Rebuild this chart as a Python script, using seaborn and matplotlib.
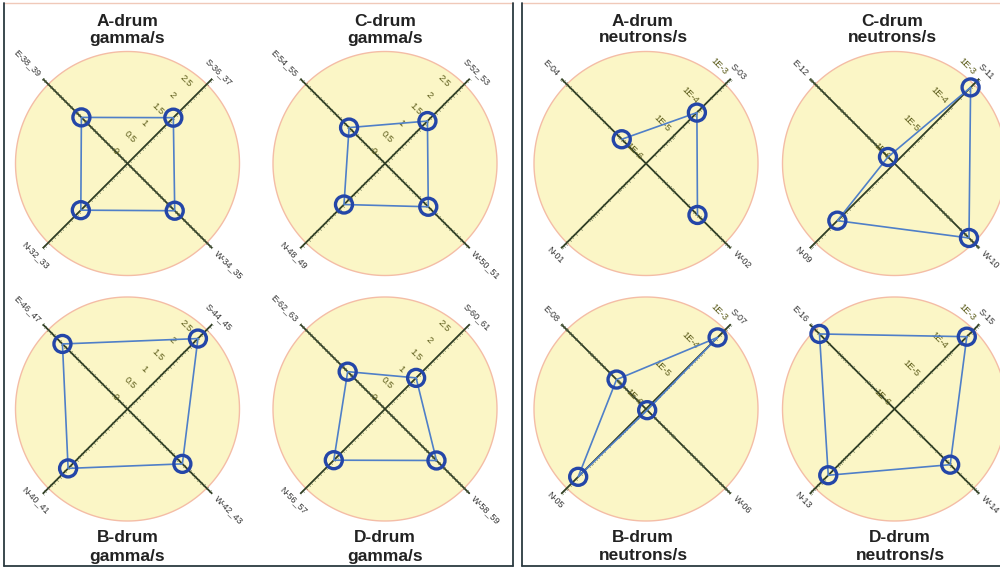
import numpy as np
import pandas as pd
import matplotlib
matplotlib.use("Agg")
import matplotlib.pyplot as plt
import matplotlib.transforms as mtransforms
from matplotlib.lines import Line2D
from matplotlib.ticker import NullLocator
import seaborn as sns

# ---- data -------------------------------------------------------------
directions = ["S", "E", "N", "W"]
direction_deg = [45, 135, 225, 315]

# gamma count rates per drum detector pair
gamma_a = [1.62, 1.63, 1.65, 1.67]
gamma_b = [2.49, 2.30, 2.10, 1.94]
gamma_c = [1.50, 1.27, 1.45, 1.53]
gamma_d = [1.10, 1.32, 1.81, 1.82]
gamma_a_names = ["S-36_37", "E-38_39", "N-32_33", "W-34_35"]
gamma_b_names = ["S-44_45", "E-46_47", "N-40_41", "W-42_43"]
gamma_c_names = ["S-52_53", "E-54_55", "N-48_49", "W-50_51"]
gamma_d_names = ["S-60_61", "E-62_63", "N-56_57", "W-58_59"]

# neutron count rates (NaN = no reading)
neutron_a = [6.3e-5, 7.2e-6, np.nan, 6.6e-5]
neutron_b = [3.4e-4, 1.1e-5, 2.5e-4, 1.1e-6]
neutron_c = [4.9e-4, 1.7e-6, 1.05e-4, 4.3e-4]
neutron_d = [3.6e-4, 4.5e-4, 2.2e-4, 9.3e-5]
neutron_a_names = ["S-03", "E-04", "N-01", "W-02"]
neutron_b_names = ["S-07", "E-08", "N-05", "W-06"]
neutron_c_names = ["S-11", "E-12", "N-09", "W-10"]
neutron_d_names = ["S-15", "E-16", "N-13", "W-14"]

gamma_ticks = [0, 0.5, 1, 1.5, 2, 2.5]
gamma_tick_labels = ["0", "0.5", "1", "1.5", "2", "2.5"]
neutron_ticks = [1e-6, 1e-5, 1e-4, 1e-3]
neutron_tick_labels = ["1E-6", "1E-5", "1E-4", "1E-3"]

# ---- style ------------------------------------------------------------
sns.set_theme(style="white")
plt.rcParams["font.family"] = ["Liberation Sans", "DejaVu Sans"]

W_PX, H_PX = 1000, 569
DPI = 100
AXIS_COLOR = "#2f3d25"
TICK_COLOR = "#55633f"
TICK_TEXT = "#5a5a18"
DISC_FACE = "#fbf6c6"
DISC_EDGE = "#f4bda6"
LINE_BLUE = "#4f7fc8"
RING_BLUE = "#2446a8"
TITLE_COLOR = "#222222"
HALF_PX = 120  # radius of the axis lines in pixels

fig = plt.figure(figsize=(W_PX / DPI, H_PX / DPI), dpi=DPI)
fig.patch.set_facecolor("white")


def px_offset(dx, dy):
    return mtransforms.ScaledTranslation(dx / DPI, dy / DPI, fig.dpi_scale_trans)


def radar_panel(cx, cy, values, names, ticks, tick_labels, log, title, title_x, title_ys):
    ax = fig.add_axes([(cx - HALF_PX) / W_PX, 1 - (cy + HALF_PX) / H_PX,
                       2 * HALF_PX / W_PX, 2 * HALF_PX / H_PX], projection="polar")
    ax.set_facecolor("none")
    ax.spines["polar"].set_visible(False)
    if log:
        ax.set_rscale("log")
        lo, hi = 1e-6, 1e-3
        disc_r = 10 ** -3.2
        minor = np.array([k * 10.0 ** e for e in (-6, -5, -4) for k in range(2, 11)])
    else:
        lo, hi = 0.0, 3.0
        disc_r = 2.8
        minor = np.arange(0.1, 3.0001, 0.1)
    ax.set_rlim(lo, hi)

    # background disc
    circ_t = np.linspace(0, 2 * np.pi, 361)
    ax.fill(circ_t, np.full_like(circ_t, disc_r), facecolor=DISC_FACE,
            edgecolor=DISC_EDGE, lw=1.0, zorder=0)

    theta = np.deg2rad(direction_deg)

    # the four axes with their tick marks
    for t, deg in zip(theta, direction_deg):
        ax.plot([t, t], [lo, hi], color=AXIS_COLOR, lw=1.3, zorder=1,
                solid_capstyle="butt")
        ax.plot(np.full_like(minor, t), minor, ls="none", marker=(2, 0, deg),
                ms=2.4, mew=0.5, color=TICK_COLOR, alpha=0.8, zorder=1)

    # scale labels along the S axis
    for tv, tl in zip(ticks, tick_labels):
        ax.text(theta[0], tv, tl, transform=ax.transData + px_offset(-12, 12),
                rotation=-45, rotation_mode="anchor", ha="center", va="center",
                fontsize=6.8, color=TICK_TEXT, zorder=2)

    # detector names beyond the axis ends
    align = {"S": ("center", "bottom"), "N": ("center", "top"),
             "E": ("right", "center"), "W": ("left", "center")}
    for d, t, name in zip(directions, theta, names):
        ha, va = align[d]
        gap = 5
        ax.text(t, hi, name,
                transform=ax.transData + px_offset(gap * np.cos(t), gap * np.sin(t)),
                rotation=-45, rotation_mode="anchor", ha=ha, va=va,
                fontsize=6.5, color="#333333", clip_on=False)

    # polygon edges, broken where a reading is missing
    vals = np.asarray(values, dtype=float)
    closed_t = np.append(theta, theta[0])
    closed_v = np.append(vals, vals[0])
    seg = np.cumsum(np.isnan(closed_v))
    df = pd.DataFrame({"theta": closed_t, "r": closed_v, "seg": seg}).dropna()
    sns.lineplot(data=df, x="theta", y="r", units="seg", estimator=None, sort=False,
                 color=LINE_BLUE, lw=1.2, ax=ax, legend=False, zorder=3)

    pts = pd.DataFrame({"theta": theta, "r": vals}).dropna()
    sns.scatterplot(data=pts, x="theta", y="r", ax=ax, s=150, marker="o",
                    facecolor="none", edgecolor=RING_BLUE, linewidth=2.4,
                    legend=False, zorder=4)

    ax.set_rlim(lo, hi)
    ax.set_xlabel("")
    ax.set_ylabel("")
    ax.grid(False)
    ax.xaxis.set_major_locator(NullLocator())
    ax.yaxis.set_major_locator(NullLocator())
    ax.yaxis.set_minor_locator(NullLocator())

    for line, y in zip(title.split("\n"), title_ys):
        fig.text(title_x / W_PX, 1 - y / H_PX, line, ha="center", va="center",
                 fontsize=12.5, fontweight="bold", color=TITLE_COLOR)
    return ax


TOP_Y, BOT_Y = 163.5, 409
TOP_TITLE = (21, 38)
BOT_TITLE = (538, 556)

radar_panel(127.5, TOP_Y, gamma_a, gamma_a_names, gamma_ticks, gamma_tick_labels,
            False, "A-drum\ngamma/s", 127.5, TOP_TITLE)
radar_panel(385, TOP_Y, gamma_c, gamma_c_names, gamma_ticks, gamma_tick_labels,
            False, "C-drum\ngamma/s", 385, TOP_TITLE)
radar_panel(127.5, BOT_Y, gamma_b, gamma_b_names, gamma_ticks, gamma_tick_labels,
            False, "B-drum\ngamma/s", 127.5, BOT_TITLE)
radar_panel(385, BOT_Y, gamma_d, gamma_d_names, gamma_ticks, gamma_tick_labels,
            False, "D-drum\ngamma/s", 385, BOT_TITLE)

radar_panel(646, TOP_Y, neutron_a, neutron_a_names, neutron_ticks, neutron_tick_labels,
            True, "A-drum\nneutrons/s", 643, TOP_TITLE)
radar_panel(894.5, TOP_Y, neutron_c, neutron_c_names, neutron_ticks, neutron_tick_labels,
            True, "C-drum\nneutrons/s", 892, TOP_TITLE)
radar_panel(646, BOT_Y, neutron_b, neutron_b_names, neutron_ticks, neutron_tick_labels,
            True, "B-drum\nneutrons/s", 643, BOT_TITLE)
radar_panel(894.5, BOT_Y, neutron_d, neutron_d_names, neutron_ticks, neutron_tick_labels,
            True, "D-drum\nneutrons/s", 900, BOT_TITLE)


# ---- frames around the gamma and neutron groups ------------------------
def fig_line(x0, y0, x1, y1, color, lw):
    fig.add_artist(Line2D([x0 / W_PX, x1 / W_PX], [1 - y0 / H_PX, 1 - y1 / H_PX],
                          transform=fig.transFigure, color=color, lw=lw))


FRAME = "#2b3a40"
FRAME_TOP = "#f0c9b9"
for x0, x1, right_edge in [(3.5, 512.5, True), (521.5, 1001, False)]:
    fig_line(x0, 2.5, x1, 2.5, FRAME_TOP, 1.0)
    fig_line(x0, 2.5, x0, 566, FRAME, 1.3)
    fig_line(x0, 566, x1, 566, FRAME, 1.3)
    if right_edge:
        fig_line(x1, 2.5, x1, 566, FRAME, 1.3)

fig.savefig("out.png", dpi=DPI)
